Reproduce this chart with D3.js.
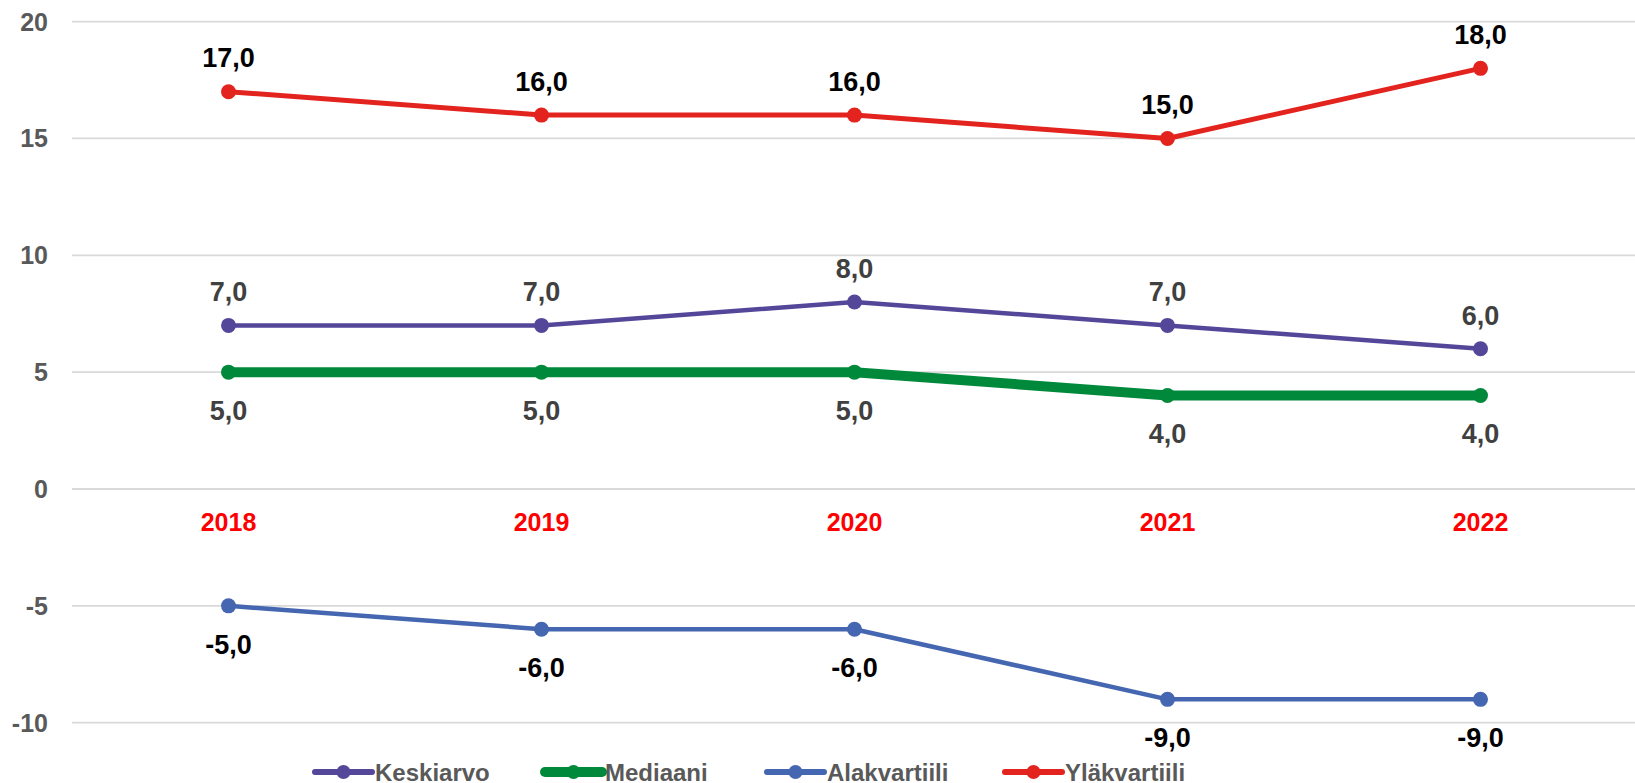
<!DOCTYPE html>
<html>
<head>
<meta charset="utf-8">
<script src="https://cdn.jsdelivr.net/npm/d3@7"></script>
<style>
  html, body { margin: 0; padding: 0; background: #fff; }
  svg { display: block; font-family: "Liberation Sans", Arial, sans-serif; }
</style>
</head>
<body>
<svg id="chart" width="1635" height="783"></svg>
<script>
// ---------- data ----------
const years = ["2018", "2019", "2020", "2021", "2022"];
const keskiarvo = [7, 7, 8, 7, 6];
const mediaani = [5, 5, 5, 4, 4];
const alakvartiili = [-5, -6, -6, -9, -9];
const ylakvartiili = [17, 16, 16, 15, 18];
const yTicks = [-10, -5, 0, 5, 10, 15, 20];

// series config (style + label placement)
const series = [
  { name: "Keskiarvo", values: keskiarvo, color: "#54479a", width: 4.5, labelColor: "#404040", above: true },
  { name: "Mediaani", values: mediaani, color: "#00893b", width: 10, labelColor: "#404040", above: false },
  { name: "Alakvartiili", values: alakvartiili, color: "#4566b0", width: 4.5, labelColor: "#000", above: false },
  { name: "Yläkvartiili", values: ylakvartiili, color: "#e3231e", width: 5, labelColor: "#000", above: true }
];

const svg = d3.select("#chart");

const x = d3.scalePoint().domain(years).range([72, 1637]).padding(0.5);
const y = d3.scaleLinear().domain([-10, 20]).range([722.7, 21.6]);

// ---------- gridlines + y axis ----------
svg.append("g")
  .selectAll("line")
  .data(yTicks)
  .join("line")
  .attr("x1", 72)
  .attr("x2", 1635)
  .attr("y1", d => y(d))
  .attr("y2", d => y(d))
  .attr("stroke", "#d9d9d9")
  .attr("stroke-width", 1.8);

svg.append("g")
  .selectAll("text")
  .data(yTicks)
  .join("text")
  .attr("x", 48)
  .attr("y", d => y(d))
  .attr("dy", "0.36em")
  .attr("text-anchor", "end")
  .attr("font-size", 25)
  .attr("font-weight", "bold")
  .attr("fill", "#595959")
  .text(d => d);

// ---------- category labels (at zero line) ----------
svg.append("g")
  .selectAll("text")
  .data(years)
  .join("text")
  .attr("x", d => x(d))
  .attr("y", y(0) + 33)
  .attr("dy", "0.36em")
  .attr("text-anchor", "middle")
  .attr("font-size", 25)
  .attr("font-weight", "bold")
  .attr("fill", "#ff0000")
  .text(d => d);

// ---------- lines ----------
const line = d3.line()
  .x((d, i) => x(years[i]))
  .y(d => y(d));

const fmt = v => d3.format(".1f")(v).replace(".", ",").replace("−", "-");

series.forEach(s => {
  const g = svg.append("g");
  g.append("path")
    .datum(s.values)
    .attr("d", line)
    .attr("fill", "none")
    .attr("stroke", s.color)
    .attr("stroke-width", s.width)
    .attr("stroke-linejoin", "round");

  g.selectAll("circle")
    .data(s.values)
    .join("circle")
    .attr("cx", (d, i) => x(years[i]))
    .attr("cy", d => y(d))
    .attr("r", 7.5)
    .attr("fill", s.color);

  g.selectAll("text")
    .data(s.values)
    .join("text")
    .attr("x", (d, i) => x(years[i]))
    .attr("y", d => y(d) + (s.above ? -34 : 38))
    .attr("dy", "0.36em")
    .attr("text-anchor", "middle")
    .attr("font-size", 27)
    .attr("font-weight", "bold")
    .attr("fill", s.labelColor)
    .text(d => fmt(d));
});

// ---------- legend ----------
const legendX = [315, 545, 767, 1005];
const legend = svg.append("g");
series.forEach((s, i) => {
  const g = legend.append("g").attr("transform", `translate(${legendX[i]},772)`);
  g.append("line")
    .attr("x1", 0).attr("x2", 57)
    .attr("y1", 0).attr("y2", 0)
    .attr("stroke", s.color)
    .attr("stroke-width", s.width === 10 ? 10 : 6)
    .attr("stroke-linecap", "round");
  g.append("circle").attr("cx", 28.5).attr("cy", 0).attr("r", 7).attr("fill", s.color);
  g.append("text")
    .attr("x", 60)
    .attr("dy", "0.36em")
    .attr("font-size", 24)
    .attr("font-weight", "bold")
    .attr("fill", "#595959")
    .text(s.name);
});
</script>
</body>
</html>
